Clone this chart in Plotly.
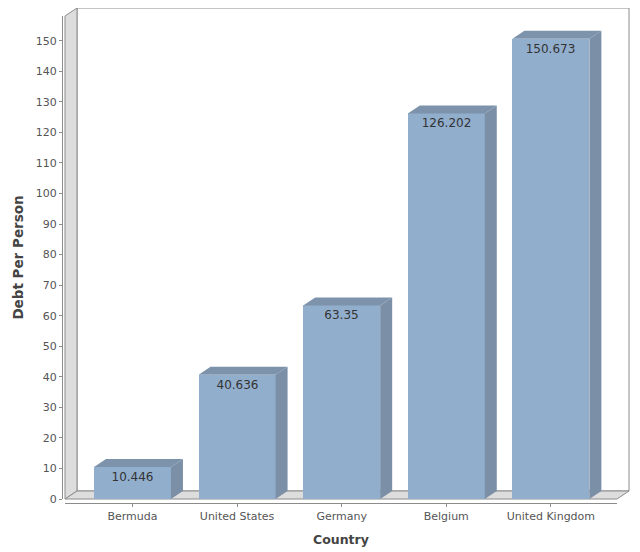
import plotly.graph_objects as go

countries = ['Bermuda', 'United States', 'Germany', 'Belgium', 'United Kingdom']
debt = [10.446, 40.636, 63.35, 126.202, 150.673]

# the page body has an 8px margin, so the figure is drawn 8px smaller
# and all pixel positions below are page positions minus that offset
OFF = 8
W, H = 640 - OFF, 552 - OFF
left, right, top, bottom = 65 - OFF, 617 - OFF, 16 - OFF, 499 - OFF
dep_x, dep_y = 12, 8

x_range = [-0.645, 4.632]
y_range = [0, 158.1]
bar_w = 0.736
# depth converted to data units
dx = dep_x * (x_range[1] - x_range[0]) / (right - left)
dy = dep_y * (y_range[1] - y_range[0]) / (bottom - top)


def px(x):
    return x / W


def py(y):
    return 1 - y / H


def path(points):
    return 'M ' + ' L '.join(f'{px(a)} {py(b)}' for a, b in points) + ' Z'


xs = list(range(len(countries)))

fig = go.Figure()
fig.add_trace(go.Bar(
    x=xs, y=debt, width=bar_w,
    marker=dict(color='#92aecd', line=dict(width=0)),
    text=[f'{v:g}' for v in debt], textposition='inside', insidetextanchor='end',
    textangle=0, constraintext='none',
    textfont=dict(family='DejaVu Sans', size=12, color='#333333'),
    hoverinfo='x+y', showlegend=False,
))

# side and top faces of each bar
for i, v in zip(xs, debt):
    r = i + bar_w / 2
    l = i - bar_w / 2
    fig.add_trace(go.Scatter(
        x=[r, r + dx, r + dx, r, r], y=[0, dy, v + dy, v, 0],
        fill='toself', fillcolor='#7b8fa6', mode='lines', line=dict(width=0),
        hoverinfo='skip', showlegend=False))
    fig.add_trace(go.Scatter(
        x=[l, l + dx, r + dx, r, l], y=[v, v + dy, v + dy, v, v],
        fill='toself', fillcolor='#7d93ab', mode='lines', line=dict(width=0),
        hoverinfo='skip', showlegend=False))

edge = '#8c8c8c'
shapes = [
    # back wall
    dict(type='path', xref='paper', yref='paper', layer='below',
         path=path([(left + dep_x, top - dep_y), (right + dep_x, top - dep_y),
                    (right + dep_x, bottom - dep_y), (left + dep_x, bottom - dep_y)]),
         fillcolor='white', line=dict(color=edge, width=1)),
    # left wall
    dict(type='path', xref='paper', yref='paper', layer='below',
         path=path([(left, bottom), (left, top), (left + dep_x, top - dep_y),
                    (left + dep_x, bottom - dep_y)]),
         fillcolor='#dddddd', line=dict(color=edge, width=1)),
    # floor
    dict(type='path', xref='paper', yref='paper', layer='below',
         path=path([(left, bottom), (left + dep_x, bottom - dep_y),
                    (right + dep_x, bottom - dep_y), (right, bottom)]),
         fillcolor='#dddddd', line=dict(color=edge, width=1)),
]

fig.update_layout(
    width=W, height=H,
    margin=dict(l=0, r=0, t=0, b=0),
    paper_bgcolor='white', plot_bgcolor='rgba(0,0,0,0)',
    font=dict(family='DejaVu Sans', size=11, color='#555555'),
    shapes=shapes,
    bargap=0,
    xaxis=dict(
        domain=[px(left), px(right)], range=x_range, automargin=False,
        anchor='free', position=py(502.5 - OFF),
        tickmode='array', tickvals=xs, ticktext=countries,
        showline=True, linecolor=edge, ticks='outside', ticklen=3, tickcolor=edge,
        showgrid=False, zeroline=False,
        tickfont=dict(size=11, color='#555555'),
        title=dict(text='<b>Country</b>', font=dict(size=12.5, color='#444444'), standoff=13),
    ),
    yaxis=dict(
        domain=[py(bottom), py(top)], range=y_range, automargin=False,
        anchor='free', position=px(62 - OFF),
        dtick=10, showline=True, linecolor=edge, ticks='outside', ticklen=3, tickcolor=edge,
        showgrid=False, zeroline=False,
        tickfont=dict(size=11, color='#555555'),
        title=dict(text='<b>Debt Per Person</b>', font=dict(size=13.5, color='#444444'), standoff=8),
    ),
)

fig.write_html('out.html')
